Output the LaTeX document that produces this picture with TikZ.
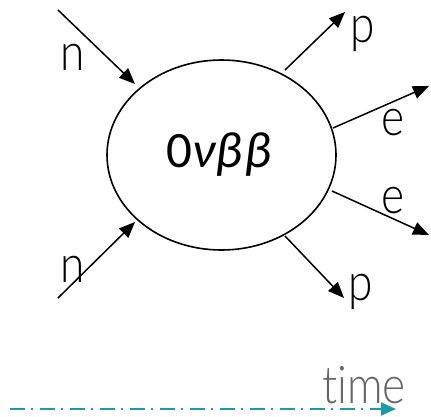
\documentclass[tikz,border=0pt]{standalone}
\usepackage{fontspec}
\setmainfont{Lato}[UprightFont={* Light},Ligatures=NoCommon]
\newfontfamily\formulafont{Carlito}
\usetikzlibrary{shapes.geometric,arrows.meta}

\definecolor{axisteal}{HTML}{1A9BAA}
\definecolor{axisgray}{HTML}{666666}

\tikzset{
  particle/.style={line width=1.5pt,-{Triangle[length=16pt,width=13pt]}},
  plabel/.style={font=\fontsize{52}{52}\selectfont,inner sep=0pt,anchor=base,xscale=0.85},
  timeline/.style={axisteal,line width=2pt,dash pattern=on 15pt off 6pt on 2pt off 7pt,
    -{Triangle[length=15pt,width=13pt]}},
}

\begin{document}
\begin{tikzpicture}[x=1pt,y=-1pt]
\useasboundingbox (0,0) rectangle (431,416);

% decay vertex
\node[draw,ellipse,line width=1.6pt,minimum width=229pt,minimum height=190pt,inner sep=0pt]
  (core) at (221.5,155) {};
\node[font=\formulafont\fontsize{51}{51}\selectfont,inner sep=0pt] (formula) at (219,155)
  {0\itshape ν\kern1ptβ\kern2ptβ};

% end points of the particle lines
\coordinate (nTopStart) at (58,10);   \coordinate (nTopEnd) at (135,84);
\coordinate (nBotStart) at (58,298);  \coordinate (nBotEnd) at (135,222);
\coordinate (pTopStart) at (285,70);  \coordinate (pTopEnd) at (345,12);
\coordinate (eTopStart) at (333,128); \coordinate (eTopEnd) at (429,86);
\coordinate (eBotStart) at (332,191); \coordinate (eBotEnd) at (429,235);
\coordinate (pBotStart) at (285,236); \coordinate (pBotEnd) at (344,298);

\draw[particle] (nTopStart) -- (nTopEnd);
\draw[particle] (nBotStart) -- (nBotEnd);
\draw[particle] (pTopStart) -- (pTopEnd);
\draw[particle] (eTopStart) -- (eTopEnd);
\draw[particle] (eBotStart) -- (eBotEnd);
\draw[particle] (pBotStart) -- (pBotEnd);

% particle labels
\node[plabel] (lnTop) at (73,70) {n};
\node[plabel] (lnBot) at (73,282) {n};
\node[plabel] (lpTop) at (363,42) {p};
\node[plabel] (leTop) at (393,135) {e};
\node[plabel] (leBot) at (393,213) {e};
\node[plabel] (lpBot) at (361,300) {p};

% time axis
\coordinate (tStart) at (10,409);
\coordinate (tEnd) at (396,409);
\draw[timeline] (tStart) -- (tEnd);
\node[plabel,text=axisgray,xscale=1.0,font=\fontsize{52}{52}\selectfont] (ltime) at (364,403) {time};
\end{tikzpicture}
\end{document}
